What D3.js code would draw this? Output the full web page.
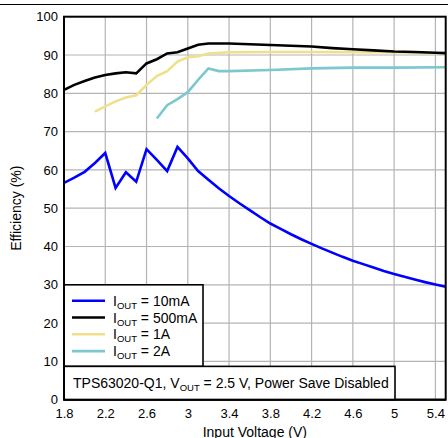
<!DOCTYPE html>
<html><head><meta charset="utf-8">
<script src="https://d3js.org/d3.v7.min.js"></script>
<style>body{margin:0;background:#fff}svg{display:block;font-family:"Liberation Sans",Arial,sans-serif}</style>
</head><body><svg id="c" width="448" height="438"></svg>
<script>
const xTicks = [1.8, 2.2, 2.6, 3, 3.4, 3.8, 4.2, 4.6, 5, 5.4];
const yTicks = [0, 10, 20, 30, 40, 50, 60, 70, 80, 90, 100];
const seriesNames = ["10mA", "500mA", "1A", "2A"];
const seriesColors = ["#0000ff", "#000000", "#f0e08a", "#7cc8ce"];
const v10mA = [[1.8,56.6],[1.9,58.0],[2.0,59.5],[2.1,61.8],[2.2,64.4],[2.3,55.3],[2.4,59.4],[2.5,56.9],[2.6,65.4],[2.7,62.6],[2.8,59.7],[2.9,66.0],[3.0,63.0],[3.1,59.7],[3.2,57.4],[3.3,55.2],[3.4,53.2],[3.5,51.3],[3.6,49.5],[3.7,47.7],[3.8,46.0],[3.9,44.6],[4.0,43.2],[4.1,41.9],[4.2,40.7],[4.3,39.5],[4.4,38.4],[4.5,37.3],[4.6,36.3],[4.7,35.4],[4.8,34.5],[4.9,33.6],[5.0,32.8],[5.1,32.1],[5.2,31.4],[5.3,30.7],[5.4,30.1],[5.5,29.5]];
const v500mA = [[1.8,80.9],[1.9,82.2],[2.0,83.2],[2.1,84.1],[2.2,84.8],[2.3,85.2],[2.4,85.5],[2.5,85.2],[2.6,87.8],[2.7,88.9],[2.8,90.4],[2.9,90.7],[3.0,91.7],[3.1,92.7],[3.2,93.0],[3.4,93.0],[3.6,92.8],[3.8,92.6],[4.0,92.4],[4.2,92.2],[4.4,91.8],[4.6,91.5],[4.8,91.2],[5.0,90.9],[5.2,90.8],[5.4,90.6],[5.5,90.5]];
const v1A = [[2.1,75.2],[2.2,76.6],[2.3,77.9],[2.4,78.9],[2.5,79.5],[2.6,82.2],[2.7,84.5],[2.8,85.8],[2.9,88.3],[3.0,89.4],[3.1,89.7],[3.2,90.4],[3.4,90.7],[3.8,90.8],[4.2,90.8],[4.6,90.7],[5.0,90.7],[5.5,90.4]];
const v2A = [[2.7,73.4],[2.8,76.9],[2.9,78.5],[3.0,80.3],[3.1,83.5],[3.2,86.5],[3.3,85.8],[3.4,85.8],[3.8,86.1],[4.2,86.5],[4.6,86.7],[5.0,86.7],[5.5,86.8]];
const seriesData = [v10mA, v500mA, v1A, v2A];

const svg = d3.select("#c");
const L = 64, R = 445.7, T = 16.7, B = 399.7;
const x = d3.scaleLinear().domain([1.8, 5.5]).range([L, R]);
const y = d3.scaleLinear().domain([0, 100]).range([B, T]);

svg.append("line").attr("x1",0).attr("x2",448).attr("y1",4.5).attr("y2",4.5).attr("stroke","#000").attr("stroke-width",1);

// grid
const g = svg.append("g");
g.selectAll(".vx").data(xTicks.slice(1)).enter().append("line")
 .attr("x1",d=>x(d)).attr("x2",d=>x(d)).attr("y1",T).attr("y2",B)
 .attr("stroke","#b4b4b4").attr("stroke-width",1.2);
g.selectAll(".hy").data(yTicks.slice(1,-1)).enter().append("line")
 .attr("x1",L).attr("x2",R).attr("y1",d=>y(d)).attr("y2",d=>y(d))
 .attr("stroke","#b4b4b4").attr("stroke-width",1.2);

// axes
const xAxis = d3.axisBottom(x).tickValues(xTicks).tickSize(0).tickPadding(9).tickFormat(d=>String(d));
const ax = svg.append("g").attr("transform",`translate(0,${B})`).call(xAxis);
ax.select(".domain").remove();
ax.selectAll("text").attr("font-size",13).attr("fill","#000").attr("font-family","Liberation Sans, Arial, sans-serif");
const yAxis = d3.axisLeft(y).tickValues(yTicks).tickSize(0).tickPadding(6);
const ay = svg.append("g").attr("transform",`translate(${L},0)`).call(yAxis);
ay.select(".domain").remove();
ay.selectAll("text").attr("font-size",13).attr("fill","#000").attr("font-family","Liberation Sans, Arial, sans-serif");

// lines
svg.append("clipPath").attr("id","clip").append("rect").attr("x",L).attr("y",T).attr("width",R-L).attr("height",B-T);
const line = d3.line().x(d=>x(d[0])).y(d=>y(d[1]));
const order = [3,2,1,0];
svg.append("g").attr("clip-path","url(#clip)").selectAll("path").data(order).enter().append("path")
 .attr("d",i=>line(seriesData[i])).attr("fill","none").attr("stroke",i=>seriesColors[i])
 .attr("stroke-width",2.6).attr("stroke-linejoin","miter");

// frame
svg.append("rect").attr("x",L).attr("y",T).attr("width",R-L).attr("height",B-T)
 .attr("fill","none").attr("stroke","#000").attr("stroke-width",2);

// legend
const lg = svg.append("g");
lg.append("rect").attr("x",L).attr("y",y(30)).attr("width",203-L).attr("height",y(8.7)-y(30))
 .attr("fill","#fff").attr("stroke","#000").attr("stroke-width",1.6);
seriesNames.forEach((n,i)=>{
  const yy = 300.7 + i*16.8;
  lg.append("line").attr("x1",72).attr("x2",105).attr("y1",yy).attr("y2",yy).attr("stroke",seriesColors[i]).attr("stroke-width",2.6);
  const t = lg.append("text").attr("x",113).attr("y",yy+5).attr("font-size",14).attr("fill","#000");
  t.append("tspan").text("I");
  t.append("tspan").attr("font-size",9.5).attr("dy",3).text("OUT");
  t.append("tspan").attr("dy",-3).text(" = " + n);
});

// condition box
svg.append("rect").attr("x",L).attr("y",y(8.7)).attr("width",395-L).attr("height",B-y(8.7))
 .attr("fill","#fff").attr("stroke","#000").attr("stroke-width",1.6);
const ct = svg.append("text").attr("x",73).attr("y",388).attr("font-size",14).attr("fill","#000");
ct.append("tspan").text("TPS63020-Q1, V");
ct.append("tspan").attr("font-size",9.5).attr("dy",3).text("OUT");
ct.append("tspan").attr("dy",-3).text(" = 2.5 V, Power Save Disabled");
svg.append("line").attr("x1",L).attr("x2",L).attr("y1",T).attr("y2",B).attr("stroke","#000").attr("stroke-width",2);
svg.append("line").attr("x1",L).attr("x2",R).attr("y1",B).attr("y2",B).attr("stroke","#000").attr("stroke-width",2);

// titles
svg.append("text").attr("x",(L+R)/2).attr("y",437).attr("text-anchor","middle").attr("font-size",14).text("Input Voltage (V)");
svg.append("text").attr("transform",`translate(21,${(T+B)/2}) rotate(-90)`).attr("text-anchor","middle").attr("font-size",14).text("Efficiency (%)");
</script></body></html>
